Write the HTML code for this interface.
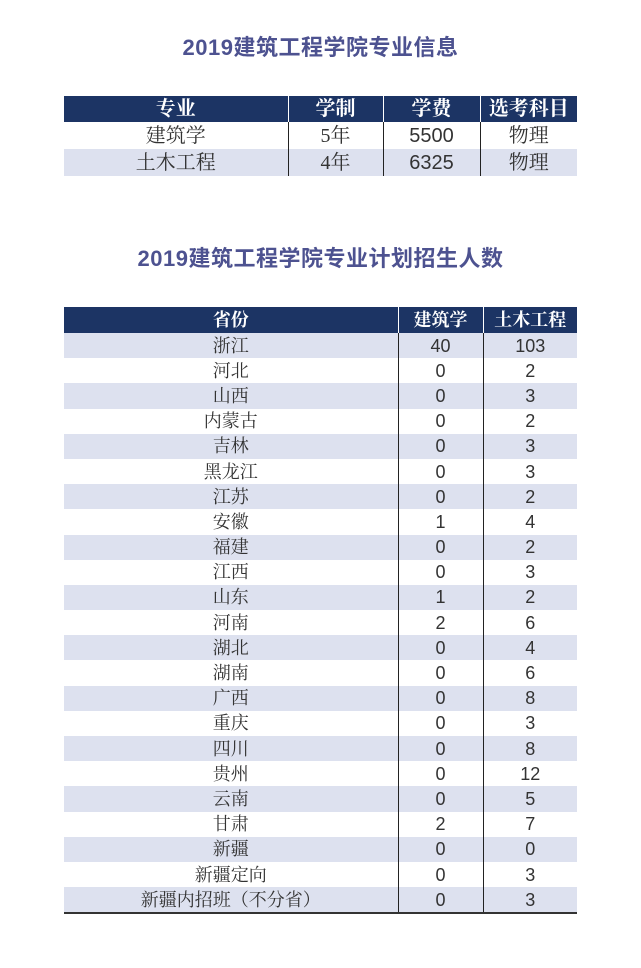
<!DOCTYPE html>
<html><head><meta charset="utf-8"><style>
body{margin:0;width:641px;height:968px;background:#fff;position:relative;font-family:"Liberation Sans","Noto Sans CJK SC",sans-serif;overflow:hidden}
.t{position:absolute;left:0;width:641px;text-align:center;font-size:22px;font-weight:bold;color:#4d5290;letter-spacing:0.5px}
table{position:absolute;left:64px;border-collapse:collapse;table-layout:fixed;color:#333;font-family:"Liberation Serif","Noto Serif CJK SC",serif}
td{padding:0;text-align:center;vertical-align:middle;line-height:1;border-left:1px solid #222;overflow:hidden;white-space:nowrap}
td:first-child{border-left:none}
tr.h td{background:#1c3464;color:#fff;font-weight:bold;border-left:1px solid #fff}
tr.h td:first-child{border-left:none}
tr.l td{background:#dde1ef}
.n{font-family:"Liberation Sans",sans-serif}
#t1 td{font-size:20px;height:27px}
#t1 tr.h td{height:26px}
#t2 td{font-size:18px;height:25.2px}
#t2 tr.h td{height:26px}
#t2{border-bottom:2px solid #333}
</style></head><body>
<div class="t" style="top:30px">2019建筑工程学院专业信息</div>
<table id="t1" style="top:96px;width:513px">
<colgroup><col style="width:224px"><col style="width:95px"><col style="width:97px"><col style="width:97px"></colgroup>
<tr class="h"><td>专业</td><td>学制</td><td>学费</td><td>选考科目</td></tr>
<tr><td>建筑学</td><td>5年</td><td class="n">5500</td><td>物理</td></tr>
<tr class="l"><td>土木工程</td><td>4年</td><td class="n">6325</td><td>物理</td></tr>
</table>
<div class="t" style="top:241px">2019建筑工程学院专业计划招生人数</div>
<table id="t2" style="top:307px;width:513px">
<colgroup><col style="width:334px"><col style="width:85px"><col style="width:94px"></colgroup>
<tr class="h"><td>省份</td><td>建筑学</td><td>土木工程</td></tr>
<tr class="l"><td>浙江</td><td class="n">40</td><td class="n">103</td></tr>
<tr><td>河北</td><td class="n">0</td><td class="n">2</td></tr>
<tr class="l"><td>山西</td><td class="n">0</td><td class="n">3</td></tr>
<tr><td>内蒙古</td><td class="n">0</td><td class="n">2</td></tr>
<tr class="l"><td>吉林</td><td class="n">0</td><td class="n">3</td></tr>
<tr><td>黑龙江</td><td class="n">0</td><td class="n">3</td></tr>
<tr class="l"><td>江苏</td><td class="n">0</td><td class="n">2</td></tr>
<tr><td>安徽</td><td class="n">1</td><td class="n">4</td></tr>
<tr class="l"><td>福建</td><td class="n">0</td><td class="n">2</td></tr>
<tr><td>江西</td><td class="n">0</td><td class="n">3</td></tr>
<tr class="l"><td>山东</td><td class="n">1</td><td class="n">2</td></tr>
<tr><td>河南</td><td class="n">2</td><td class="n">6</td></tr>
<tr class="l"><td>湖北</td><td class="n">0</td><td class="n">4</td></tr>
<tr><td>湖南</td><td class="n">0</td><td class="n">6</td></tr>
<tr class="l"><td>广西</td><td class="n">0</td><td class="n">8</td></tr>
<tr><td>重庆</td><td class="n">0</td><td class="n">3</td></tr>
<tr class="l"><td>四川</td><td class="n">0</td><td class="n">8</td></tr>
<tr><td>贵州</td><td class="n">0</td><td class="n">12</td></tr>
<tr class="l"><td>云南</td><td class="n">0</td><td class="n">5</td></tr>
<tr><td>甘肃</td><td class="n">2</td><td class="n">7</td></tr>
<tr class="l"><td>新疆</td><td class="n">0</td><td class="n">0</td></tr>
<tr><td>新疆定向</td><td class="n">0</td><td class="n">3</td></tr>
<tr class="l"><td>新疆内招班（不分省）</td><td class="n">0</td><td class="n">3</td></tr>
</table>
</body></html>
